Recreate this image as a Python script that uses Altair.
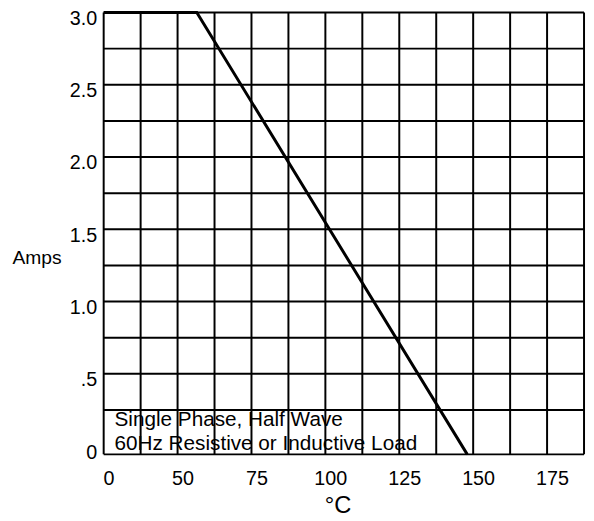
import altair as alt
import pandas as pd

# ---- data ----
temp_c = [0, 56.5, 148]
amps = [3.0, 3.0, 0.0]

x_grid = [0, 25, 50, 62.5, 75, 87.5, 100, 112.5, 125, 137.5, 150, 162.5, 175, 187.5]
y_grid = [0, 0.25, 0.5, 0.75, 1.0, 1.25, 1.5, 1.75, 2.0, 2.25, 2.5, 2.75, 3.0]

x_tick_values = [0, 50, 75, 100, 125, 150, 175]
x_tick_labels = ["0", "50", "75", "100", "125", "150", "175"]
y_tick_values = [0, 0.5, 1.0, 1.5, 2.0, 2.5, 3.0]
y_tick_labels = ["0", ".5", "1.0", "1.5", "2.0", "2.5", "3.0"]

note_lines = ["Single Phase, Half Wave", "60Hz Resistive or Inductive Load"]
x_title = "\u00b0C"
y_title = "Amps"

# ---- layout ----
W, H = 487, 448
cell = W / 13.0
FONT = "Liberation Sans"


def label_expr(values, labels):
    parts = []
    for v, l in zip(values, labels):
        parts.append(f"datum.value == {v} ? '{l}' : ")
    return "".join(parts) + "''"


xscale = alt.Scale(domain=[0, 50, 187.5], range=[0, 2 * cell, W], nice=False, zero=False)
yscale = alt.Scale(domain=[0, 0.25, 3.0], range=[H, 403, 0], nice=False, zero=False)

xaxis = alt.Axis(
    values=x_tick_values,
    labelExpr=label_expr(x_tick_values, x_tick_labels),
    grid=False,
    domain=False,
    ticks=False,
    labelFont=FONT,
    labelFontSize=20,
    labelColor="black",
    labelBaseline="middle",
    labelPadding=25,
    labelOffset=5,
    labelFlush=False,
    labelOverlap=False,
    title=x_title,
    titleFont=FONT,
    titleFontSize=24,
    titleFontWeight="normal",
    titleColor="black",
    titleX=237,
    titleY=59,
    titleAlign="center",
    titleBaseline="alphabetic",
)

yaxis = alt.Axis(
    values=y_tick_values,
    labelExpr=label_expr(y_tick_values, y_tick_labels),
    grid=False,
    domain=False,
    ticks=False,
    labelFont=FONT,
    labelFontSize=20,
    labelColor="black",
    labelBaseline="middle",
    labelPadding=7,
    labelOffset={"condition": {"test": "datum.value == 0", "value": -2}, "value": 6},
    labelFlush=False,
    labelOverlap=False,
    title=y_title,
    titleFont=FONT,
    titleFontSize=19.5,
    titleFontWeight="normal",
    titleColor="black",
    titleAngle=0,
    titleX=-68,
    titleY=254,
    titleAlign="center",
    titleBaseline="alphabetic",
)

curve = pd.DataFrame({"t": temp_c, "a": amps})
gx = pd.DataFrame({"t": x_grid})
gy = pd.DataFrame({"a": y_grid})

vrules = alt.Chart(gx).mark_rule(color="black", strokeWidth=2).encode(
    x=alt.X("t:Q", scale=xscale, axis=xaxis)
)
hrules = alt.Chart(gy).mark_rule(color="black", strokeWidth=2).encode(
    y=alt.Y("a:Q", scale=yscale, axis=yaxis)
)

line = alt.Chart(curve).mark_line(color="black", strokeWidth=3).encode(
    x=alt.X("t:Q", scale=xscale, axis=xaxis),
    y=alt.Y("a:Q", scale=yscale, axis=yaxis),
)

note1 = alt.Chart(pd.DataFrame({"n": [note_lines[0]]})).mark_text(
    font=FONT, fontSize=21, color="black", align="left", baseline="alphabetic"
).encode(x=alt.value(11), y=alt.value(419), text="n:N")

note2 = alt.Chart(pd.DataFrame({"n": [note_lines[1]]})).mark_text(
    font=FONT, fontSize=21, color="black", align="left", baseline="alphabetic"
).encode(x=alt.value(11), y=alt.value(444), text="n:N")

chart = (
    alt.layer(vrules, hrules, line, note1, note2)
    .properties(
        width=W,
        height=H,
        autosize=alt.AutoSizeParams(type="none"),
        padding={"left": 97, "top": 1, "right": 2, "bottom": 63},
        background="white",
    )
    .configure_view(strokeWidth=0)
)

chart.save("out.html", embed_options={"renderer": "svg", "actions": False})
